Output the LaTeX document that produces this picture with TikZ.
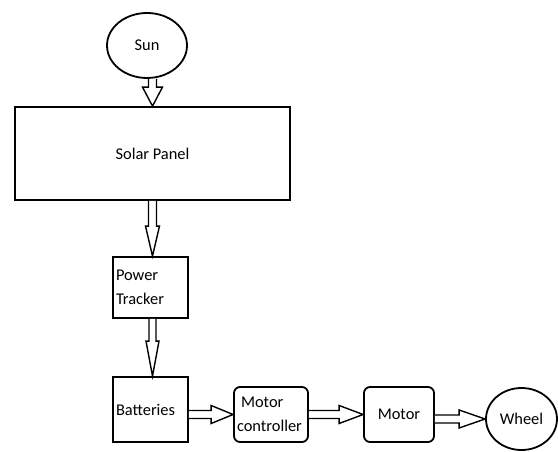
\documentclass[tikz,border=0pt]{standalone}
\usepackage{fontspec}
\setmainfont{Carlito}
\usetikzlibrary{calc,shapes.geometric}
\tikzset{
  box/.style={draw,line width=1.8pt,inner sep=3pt,align=left,font=\fontsize{16.4}{24}\selectfont},
  rbox/.style={box,rounded corners=6pt},
  oval/.style={draw,ellipse,line width=1.8pt,inner sep=0pt,font=\fontsize{16.4}{20}\selectfont},
  hollow/.style={draw,line width=1.4pt,fill=white,line join=miter}
}
% vertical hollow arrow at the x of the source: from, to, shaft half width, head half width, head length
\newcommand\varrow[5]{%
  \draw[hollow] let \p1=(#1.south), \p2=(#2.north) in
    (\x1-#3pt,\y1) -- (\x1-#3pt,\y2+#5pt) -- (\x1-#4pt,\y2+#5pt) -- (\x1,\y2)
    -- (\x1+#4pt,\y2+#5pt) -- (\x1+#3pt,\y2+#5pt) -- (\x1+#3pt,\y1);}
% horizontal hollow arrow at the y of the target
\newcommand\harrow[5]{%
  \draw[hollow] let \p1=(#1.east), \p2=(#2.west) in
    (\x1,\y2+#3pt) -- (\x2-#5pt,\y2+#3pt) -- (\x2-#5pt,\y2+#4pt) -- (\x2,\y2)
    -- (\x2-#5pt,\y2-#4pt) -- (\x2-#5pt,\y2-#3pt) -- (\x1,\y2-#3pt);}
\begin{document}
\begin{tikzpicture}[x=1pt,y=-1pt]
\useasboundingbox (0,0) rectangle (558,452);
\node[oval,minimum width=80pt,minimum height=65pt] (sun) at (147,45.5) {Sun};
\node[box,minimum width=275pt,minimum height=93pt,align=center] (panel) at (152.5,153.5) {Solar Panel};
\node[box,minimum width=75pt,minimum height=61pt,text width=69pt] (tracker) at (150.5,287.5) {Power\\Tracker};
\node[box,minimum width=75pt,minimum height=65pt,text width=69pt] (batt) at (150.5,409.5) {Batteries};
\node[rbox,minimum width=74pt,minimum height=55pt,text width=68pt] (ctrl) at (271,414.5) {\hspace*{4pt}Motor\\controller};
\node[rbox,minimum width=70pt,minimum height=55pt,align=center] (motor) at (399,414.5) {Motor};
\node[oval,minimum width=71pt,minimum height=62pt] (wheel) at (521.5,419) {Wheel};
\varrow{panel}{tracker}{4}{7}{30}
\draw[hollow] let \p1=(tracker.south), \p2=(panel.south), \p3=(batt.north) in
  (\x2-3.5pt,\y1) -- (\x2-3.5pt,\y3+35pt) -- (\x2-6.5pt,\y3+35pt) -- (\x2,\y3)
  -- (\x2+6.5pt,\y3+35pt) -- (\x2+3.5pt,\y3+35pt) -- (\x2+3.5pt,\y1);
\draw[hollow] let \p1=(sun.south), \p2=(panel.north) in
  (\x2-4pt,\y1) -- (\x2-4pt,\y2+19pt) -- (\x2-10pt,\y2+19pt) -- (\x2,\y2)
  -- (\x2+10pt,\y2+19pt) -- (\x2+4pt,\y2+19pt) -- (\x2+4pt,\y1);
\harrow{batt}{ctrl}{4}{9}{22}
\harrow{ctrl}{motor}{4}{9}{24}
\harrow{motor}{wheel}{4}{9}{26}
\end{tikzpicture}
\end{document}
